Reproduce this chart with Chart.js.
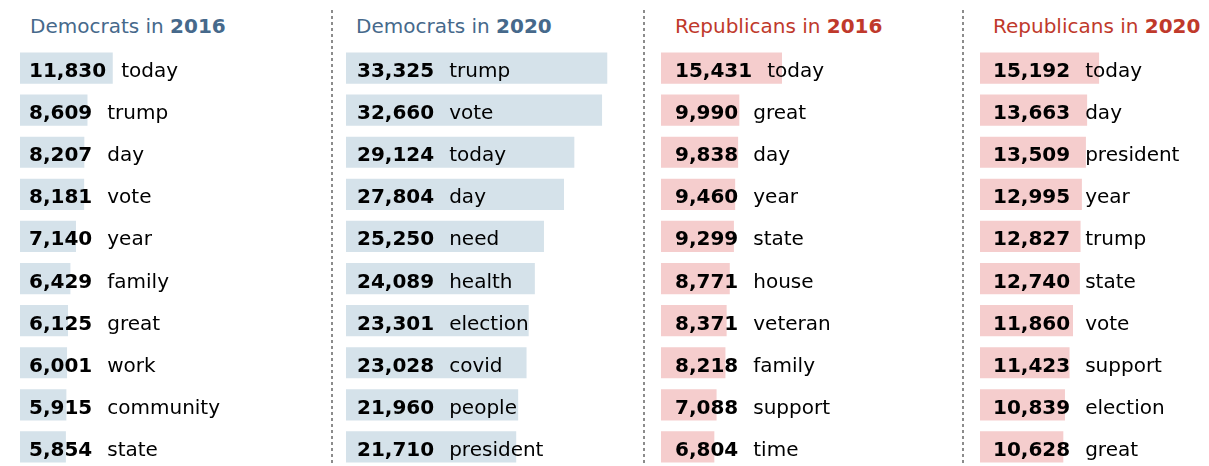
<!DOCTYPE html>
<html>
<head>
<meta charset="utf-8">
<script src="https://cdn.jsdelivr.net/npm/chart.js@4.4.1/dist/chart.umd.min.js"></script>
<style>
    html, body { margin: 0; padding: 0; background: #fff; overflow: hidden; }
    body { width: 1209px; height: 466px; position: relative; font-family: 'DejaVu Sans', sans-serif; }
    .title { position: absolute; top: 14px; font-size: 20px; white-space: nowrap; }
    .title b { font-weight: bold; }
    .dem { color: #46698b; }
    .rep { color: #c0392b; }
    .panel { position: absolute; top: 47px; width: 310px; height: 421px; }
    .sep {
        position: absolute; top: 10px; width: 2px; height: 456px;
        background-image: linear-gradient(to bottom, #8c8c8c 50%, transparent 50%);
        background-size: 2px 6px;
    }
</style>
</head>
<body>

<div class="title dem" style="left:30px">Democrats in <b>2016</b></div>
<div class="title dem" style="left:356px">Democrats in <b>2020</b></div>
<div class="title rep" style="left:675px">Republicans in <b>2016</b></div>
<div class="title rep" style="left:993px">Republicans in <b>2020</b></div>

<div class="sep" style="left:331px"></div>
<div class="sep" style="left:643px"></div>
<div class="sep" style="left:962px"></div>

<div class="panel" style="left:20px"><canvas id="dem2016"></canvas></div>
<div class="panel" style="left:346px"><canvas id="dem2020"></canvas></div>
<div class="panel" style="left:661px"><canvas id="rep2016"></canvas></div>
<div class="panel" style="left:980px"><canvas id="rep2020"></canvas></div>

<script>
// Most frequent words, per party and year
const dem2016Words = ['today', 'trump', 'day', 'vote', 'year', 'family', 'great', 'work', 'community', 'state'];
const dem2016Counts = [11830, 8609, 8207, 8181, 7140, 6429, 6125, 6001, 5915, 5854];

const dem2020Words = ['trump', 'vote', 'today', 'day', 'need', 'health', 'election', 'covid', 'people', 'president'];
const dem2020Counts = [33325, 32660, 29124, 27804, 25250, 24089, 23301, 23028, 21960, 21710];

const rep2016Words = ['today', 'great', 'day', 'year', 'state', 'house', 'veteran', 'family', 'support', 'time'];
const rep2016Counts = [15431, 9990, 9838, 9460, 9299, 8771, 8371, 8218, 7088, 6804];

const rep2020Words = ['today', 'day', 'president', 'year', 'trump', 'state', 'vote', 'support', 'election', 'great'];
const rep2020Counts = [15192, 13663, 13509, 12995, 12827, 12740, 11860, 11423, 10839, 10628];

// Shared scale so bar lengths compare across panels
const X_MAX = 39540;

const DEM_BAR = '#d5e2ea';
const REP_BAR = '#f5cdcd';

// Draws the bold count inside the bar and the word right after it
const barLabels = {
    id: 'barLabels',
    afterDatasetsDraw(chart, args, opts) {
        const ctx = chart.ctx;
        const meta = chart.getDatasetMeta(0);
        const values = chart.data.datasets[0].data;
        const words = chart.data.labels;
        ctx.save();
        ctx.fillStyle = '#000';
        ctx.textBaseline = 'alphabetic';
        meta.data.forEach((bar, i) => {
            const x = bar.base + opts.pad;
            const y = bar.y + 9;
            const num = values[i].toLocaleString('en-US');
            ctx.font = "bold 20px 'DejaVu Sans'";
            ctx.fillText(num, x, y);
            const w = ctx.measureText(num).width;
            ctx.font = "20px 'DejaVu Sans'";
            ctx.fillText(words[i], x + w + 15, y);
        });
        ctx.restore();
    }
};

function makePanel(id, words, counts, color, pad) {
    const ctx = document.getElementById(id);
    return new Chart(ctx, {
        type: 'bar',
        data: {
            labels: words,
            datasets: [{
                data: counts,
                backgroundColor: color,
                borderWidth: 0,
                barPercentage: 1,
                categoryPercentage: 0.74
            }]
        },
        options: {
            indexAxis: 'y',
            responsive: true,
            maintainAspectRatio: false,
            animation: false,
            layout: { padding: 0 },
            plugins: {
                legend: { display: false },
                tooltip: { enabled: false },
                barLabels: { pad: pad }
            },
            scales: {
                x: { display: false, min: 0, max: X_MAX },
                y: { display: false }
            }
        },
        plugins: [barLabels]
    });
}

makePanel('dem2016', dem2016Words, dem2016Counts, DEM_BAR, 9);
makePanel('dem2020', dem2020Words, dem2020Counts, DEM_BAR, 11);
makePanel('rep2016', rep2016Words, rep2016Counts, REP_BAR, 14);
makePanel('rep2020', rep2020Words, rep2020Counts, REP_BAR, 13);
</script>
</body>
</html>
